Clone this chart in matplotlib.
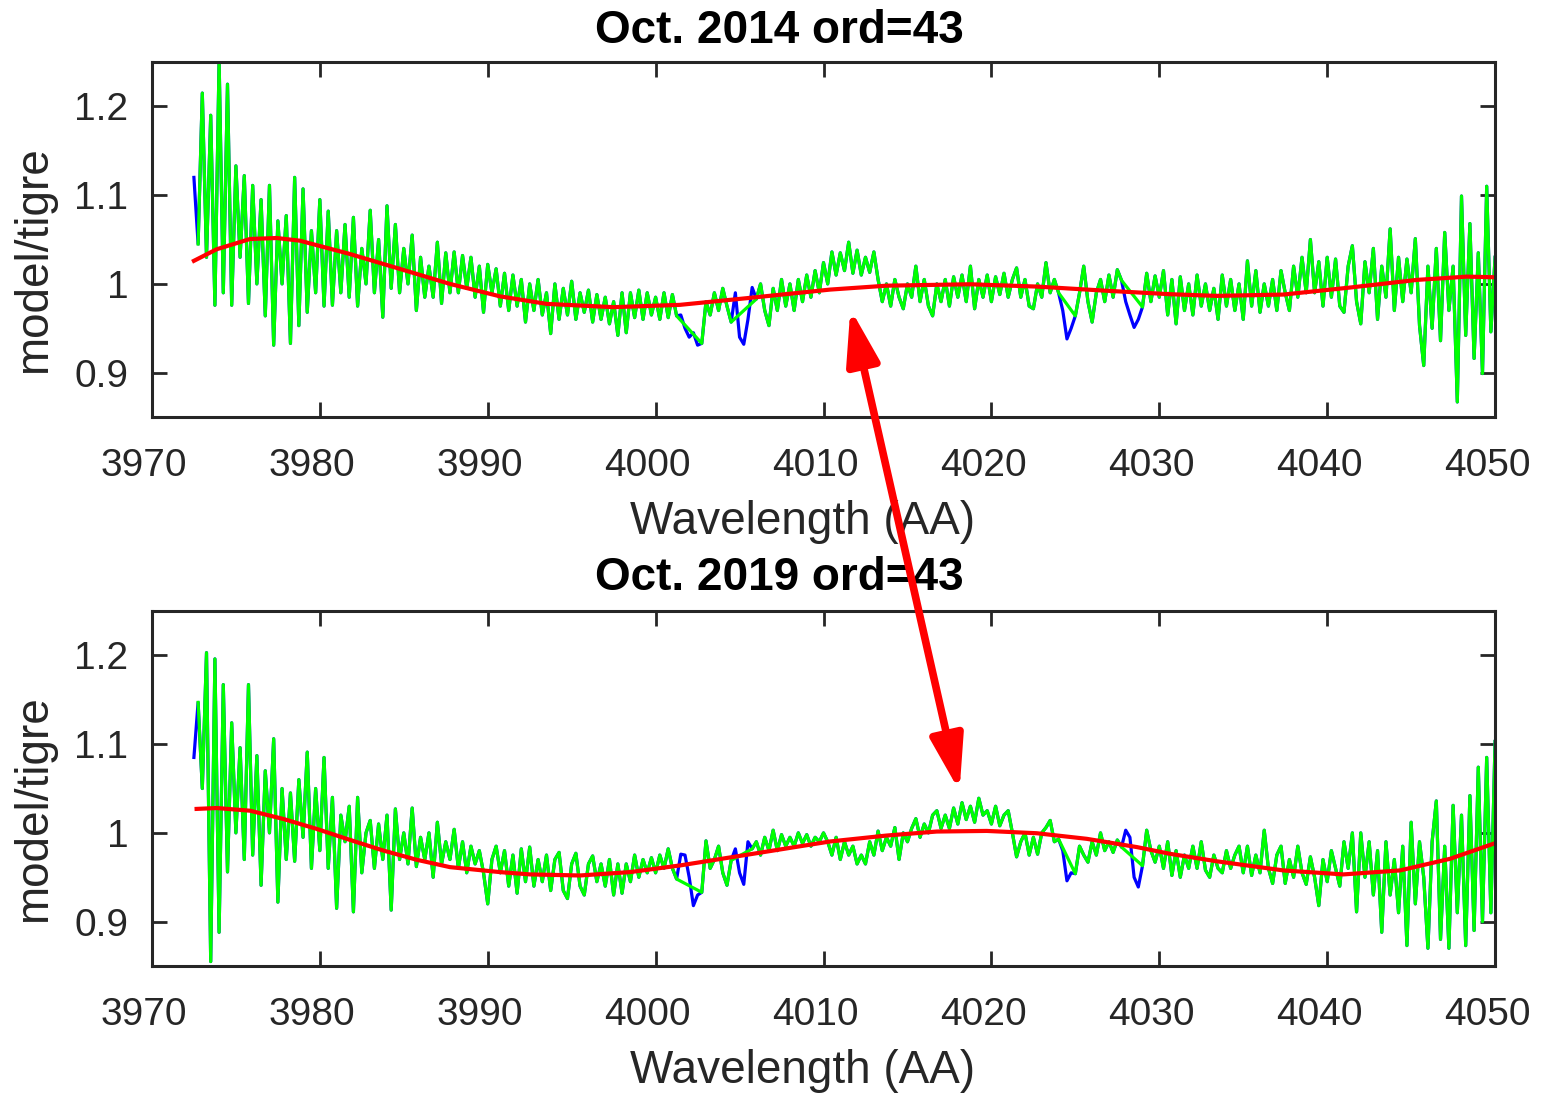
"""
Ratio model/tigre for order 43, Oct. 2014 vs Oct. 2019, with polynomial fit.
"""

import numpy as np
import matplotlib
matplotlib.use("Agg")
import matplotlib.pyplot as plt
from matplotlib.patches import ConnectionPatch
from matplotlib.transforms import ScaledTranslation

plt.rcParams['font.family'] = ['Liberation Sans', 'DejaVu Sans']

# ---------------------- data ----------------------
wl_start = 3972.5   # first sample, AA
wl_step = 0.25      # sampling, AA

# model/tigre ratio, Oct. 2014 (full data incl. absorption dips)
ratio_2014 = [
    1.12, 1.045,
    1.215, 1.03, 1.19, 0.976, 1.252, 0.99, 1.225, 0.976,
    1.133, 1.03, 1.122, 0.978, 1.111, 1.0, 1.095, 0.964,
    1.111, 0.931, 1.071, 1.0, 1.077, 0.933, 1.12, 0.953,
    1.107, 0.968, 1.06, 0.99, 1.095, 0.975, 1.082, 0.976,
    1.06, 0.99, 1.067, 0.985, 1.075, 0.975, 1.04, 1.0,
    1.083, 0.99, 1.05, 0.9625, 1.088, 0.995, 1.067, 0.99,
    1.04, 1.0, 1.055, 0.97, 1.03, 0.985, 1.02, 0.985,
    1.047, 0.978, 1.035, 0.99, 1.036, 0.99, 1.032, 0.995,
    1.03, 0.985, 1.02, 0.968, 1.022, 0.99, 1.017, 0.975,
    1.012, 0.97, 1.01, 0.975, 1.005, 0.957, 1.0, 0.97,
    1.005, 0.965, 0.99, 0.944, 1.0, 0.96, 0.995, 0.965,
    1.003, 0.96, 0.99, 0.968, 0.993, 0.957, 0.988, 0.96,
    0.985, 0.955, 0.98, 0.942, 0.99, 0.945, 0.99, 0.962,
    0.993, 0.96, 0.99, 0.965, 0.985, 0.96, 0.99, 0.962,
    0.988, 0.964, 0.965, 0.95, 0.94, 0.945, 0.931, 0.933,
    0.98, 0.965, 0.99, 0.97, 0.995, 0.975, 0.957, 0.99,
    0.94, 0.932, 0.96, 0.996, 0.983, 1.0, 0.97, 0.953,
    0.995, 0.97, 1.005, 0.975, 1.0, 0.97, 1.005, 0.98,
    1.01, 0.985, 1.015, 0.99, 1.024, 1.0, 1.036, 1.01,
    1.035, 1.015, 1.047, 1.012, 1.038, 1.01, 1.03, 1.013,
    1.036, 1.005, 0.98, 1.0, 0.975, 1.005, 0.985, 0.972,
    1.0, 0.985, 1.02, 0.98, 1.005, 0.975, 0.964, 1.0,
    0.98, 1.005, 0.975, 1.008, 0.985, 1.01, 0.98, 1.02,
    0.972, 1.005, 0.985, 1.01, 0.98, 1.008, 0.988, 1.012,
    0.985, 1.005, 1.018, 0.985, 1.005, 0.975, 0.972, 1.0,
    0.985, 1.024, 0.99, 1.005, 0.99, 0.97, 0.938, 0.95,
    0.964, 0.99, 1.02, 0.98, 0.957, 0.99, 1.005, 0.98,
    1.01, 0.985, 1.016, 1.004, 0.98, 0.965, 0.951, 0.96,
    0.974, 1.012, 0.98, 1.009, 0.985, 1.015, 0.965, 1.005,
    0.955, 1.008, 0.97, 1.0, 0.965, 1.01, 0.975, 1.0,
    0.97, 0.995, 0.96, 1.01, 0.975, 1.005, 0.97, 1.0,
    0.96, 1.026, 0.975, 1.015, 0.968, 1.0, 0.975, 1.005,
    0.97, 1.015, 0.99, 0.97, 1.02, 0.985, 1.03, 0.99,
    1.05, 0.99, 1.025, 0.975, 1.03, 0.985, 1.028, 0.975,
    0.968, 1.02, 1.043, 0.98, 0.955, 1.025, 0.99, 1.04,
    0.96, 1.02, 0.985, 1.062, 0.97, 1.03, 0.98, 1.028,
    0.99, 1.051, 0.953, 0.908, 1.02, 0.95, 1.04, 0.936,
    1.058, 0.97, 1.02, 0.867, 1.099, 0.942, 1.068, 0.916,
    1.035, 0.899, 1.11, 0.946, 1.03,
]

# model/tigre ratio, Oct. 2019
ratio_2019 = [
    1.085, 1.147,
    1.05, 1.203, 0.855, 1.196, 0.888, 1.167, 0.956, 1.124,
    1.0, 1.096, 0.97, 1.167, 0.975, 1.087, 0.941, 1.07,
    1.0, 1.106, 0.922, 1.05, 0.97, 1.045, 0.968, 1.06,
    0.995, 1.091, 0.96, 1.05, 0.98, 1.085, 0.96, 1.04,
    0.915, 1.02, 0.99, 1.03, 0.911, 1.04, 0.955, 1.0,
    1.014, 0.96, 1.01, 0.97, 1.02, 0.913, 1.027, 0.97,
    1.0, 0.965, 1.028, 0.962, 0.995, 0.97, 1.0, 0.95,
    1.012, 0.965, 0.99, 0.97, 1.004, 0.96, 0.99, 0.955,
    0.985, 0.965, 0.98, 0.955, 0.92, 0.97, 0.985, 0.955,
    0.98, 0.94, 0.975, 0.932, 0.982, 0.945, 0.984, 0.94,
    0.97, 0.945, 0.975, 0.935, 0.97, 0.978, 0.935, 0.926,
    0.965, 0.977, 0.94, 0.93, 0.965, 0.974, 0.945, 0.965,
    0.94, 0.97, 0.93, 0.965, 0.932, 0.965, 0.945, 0.975,
    0.95, 0.97, 0.955, 0.972, 0.955, 0.975, 0.96, 0.982,
    0.96, 0.948, 0.976, 0.975, 0.95, 0.918, 0.93, 0.933,
    0.991, 0.96, 0.97, 0.985, 0.955, 0.941, 0.969, 0.982,
    0.955, 0.942, 0.99, 0.982, 0.99, 0.975, 0.995, 0.98,
    1.003, 0.98, 0.998, 0.985, 0.995, 0.985, 1.0, 0.988,
    0.998, 0.985, 0.995, 0.99, 1.0, 0.99, 0.975, 0.995,
    0.97, 0.99, 0.975, 0.985, 0.965, 0.975, 0.965, 0.99,
    0.975, 1.002, 0.98, 0.995, 0.985, 1.006, 0.97, 1.0,
    0.99, 1.005, 1.016, 0.995, 1.01, 1.0, 1.02, 1.025,
    1.005, 1.02, 1.005, 1.028, 1.01, 1.034, 1.015, 1.03,
    1.012, 1.039, 1.02, 1.025, 1.01, 1.03, 1.008, 1.02,
    1.025, 1.0, 0.973, 0.99, 1.0, 0.975, 0.995, 0.976,
    1.0, 1.006, 1.014, 0.99, 0.993, 0.98, 0.946, 0.955,
    0.954, 0.985, 0.975, 0.967, 0.99, 0.975, 1.0, 0.98,
    0.99, 0.978, 0.992, 0.984, 1.003, 0.995, 0.95, 0.939,
    0.963, 1.003, 0.98, 0.967, 0.985, 0.96, 0.99, 0.952,
    0.98, 0.95, 0.975, 0.96, 0.985, 0.96, 0.99, 0.958,
    0.95, 0.975, 0.96, 0.955, 0.98, 0.96, 0.975, 0.985,
    0.955, 0.985, 0.952, 0.975, 0.955, 1.003, 0.96, 0.943,
    0.975, 0.985, 0.943, 0.97, 0.95, 0.985, 0.955, 0.942,
    0.973, 0.95, 0.918, 0.97, 0.945, 0.98, 0.96, 0.94,
    0.99, 0.96, 1.0, 0.911, 1.0, 0.95, 0.99, 0.93,
    0.98, 0.888, 0.99, 0.93, 0.97, 0.91, 0.985, 0.873,
    1.012, 0.92, 0.99, 0.95, 0.87, 0.99, 1.036, 0.88,
    0.985, 0.87, 1.031, 0.91, 1.02, 0.873, 1.042, 0.89,
    1.074, 0.9, 1.085, 0.91, 1.103,
]

# wavelength windows left out (absorption lines), AA
gaps_2014 = [(3972.4, 3972.6), (4001.4, 4002.6), (4004.6, 4005.9),
             (4024.1, 4024.9), (4027.9, 4028.9)]
gaps_2019 = [(3972.4, 3972.6), (4001.4, 4002.6), (4004.6, 4005.6),
             (4024.1, 4024.9), (4027.9, 4028.9)]

# smooth fit (red)
fit_wl_2014 = [3972.5, 3973.85, 3975.84, 3977.43, 3978.81, 3981.79, 3984.77,
               3987.75, 3990.73, 3993.51, 3997.48, 4001.45, 4005.42, 4010.39,
               4013.76, 4018.73, 4022.70, 4026.67, 4030.64, 4033.42, 4037.39,
               4041.36, 4045.33, 4048.31, 4050.0]
fit_2014 = [1.026, 1.039, 1.0506, 1.0517, 1.0487, 1.0337, 1.0169,
            1.0, 0.986, 0.9775, 0.9738, 0.9764, 0.9839, 0.9936,
            0.998, 0.9996, 0.997, 0.9925, 0.9884, 0.9865, 0.988,
            0.9959, 1.0045, 1.0082, 1.0075]

fit_wl_2019 = [3972.66, 3973.85, 3975.84, 3977.82, 3979.81, 3981.79, 3983.78,
               3985.77, 3987.75, 3990.73, 3992.52, 3995.50, 3998.47, 4001.45,
               4004.43, 4007.41, 4010.39, 4013.76, 4016.74, 4019.72, 4022.70,
               4025.68, 4028.66, 4030.64, 4033.42, 4037.39, 4040.96, 4044.34,
               4047.32, 4050.0]
fit_2019 = [1.027, 1.028, 1.025, 1.0157, 1.0045, 0.9921, 0.9801,
            0.9697, 0.9614, 0.9558, 0.9532, 0.952, 0.9558, 0.9633,
            0.9723, 0.9813, 0.9903, 0.997, 1.0015, 1.0022, 0.9996,
            0.9933, 0.984, 0.9764, 0.968, 0.9577, 0.9532, 0.9577,
            0.9708, 0.9884]

titles = ['Oct. 2014 ord=43', 'Oct. 2019 ord=43']
xticks = [3970, 3980, 3990, 4000, 4010, 4020, 4030, 4040, 4050]
yticks = [0.9, 1.0, 1.1, 1.2]
ytick_labels = ['0.9', '1', '1.1', '1.2']

# arrow ends: (wavelength, ratio) in the 2014 panel and in the 2019 panel
arrow_2014 = (4011.6, 0.972)
arrow_2019 = (4018.1, 1.047)

# ---------------------- figure ----------------------
DARK = '#262626'
fig = plt.figure(figsize=(15.41, 10.94), dpi=100)
ax1 = fig.add_axes([0.0986, 0.6188, 0.8716, 0.3245])
ax2 = fig.add_axes([0.0986, 0.1170, 0.8716, 0.3245])

panels = [(ax1, ratio_2014, gaps_2014, fit_wl_2014, fit_2014),
          (ax2, ratio_2019, gaps_2019, fit_wl_2019, fit_2019)]

# MATLAB-like x tick labels sit a little left of their ticks
xlab_shift = ScaledTranslation(-8 / 100, 0, fig.dpi_scale_trans)

for ax, ratio, gaps, fwl, fit in panels:
    ratio = np.array(ratio)
    wl = wl_start + wl_step * np.arange(len(ratio))
    keep = np.ones(len(wl), dtype=bool)
    for lo, hi in gaps:
        keep &= ~((wl > lo) & (wl < hi))

    ax.plot(wl, ratio, color='#0000ff', lw=2.3)
    ax.plot(wl[keep], ratio[keep], color='#00ff00', lw=2.3)
    ax.plot(fwl, fit, color='#ff0000', lw=3)

    ax.set_xlim(3970, 4050)
    ax.set_ylim(0.85, 1.25)
    ax.set_xticks(xticks)
    ax.set_yticks(yticks)
    ax.set_yticklabels(ytick_labels)
    ax.tick_params(direction='in', top=True, right=True, length=11, width=2,
                   colors=DARK, labelsize=28)
    ax.tick_params(axis='x', pad=22)
    ax.tick_params(axis='y', pad=17)
    for lab in ax.get_xticklabels():
        lab.set_transform(lab.get_transform() + xlab_shift)
    for sp in ax.spines.values():
        sp.set_linewidth(2.2)
        sp.set_color(DARK)

    ax.set_xlabel('Wavelength (AA)', fontsize=33, color=DARK)
    ax.xaxis.set_label_coords(0.4847, -0.235)
    ax.set_ylabel('model/tigre', fontsize=33, color=DARK)
    ax.yaxis.set_label_coords(-0.0715, 0.443)

fig.text(0.506, 0.972, titles[0], ha='center', va='center',
         fontsize=33, fontweight='bold')
fig.text(0.506, 0.4715, titles[1], ha='center', va='center',
         fontsize=33, fontweight='bold')

# double arrow linking the bump in both epochs
arr = ConnectionPatch(xyA=arrow_2014, coordsA=ax1.transData,
                      xyB=arrow_2019, coordsB=ax2.transData,
                      arrowstyle='<|-|>,head_length=33,head_width=10',
                      mutation_scale=1, shrinkA=0, shrinkB=0,
                      color='#ff0000', lw=5.5, zorder=5)
fig.add_artist(arr)

fig.savefig('out.png', dpi=100)
